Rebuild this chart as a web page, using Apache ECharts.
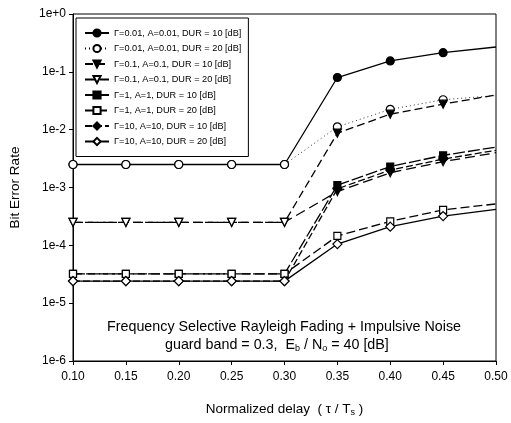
<!DOCTYPE html>
<html>
<head>
<meta charset="utf-8">
<script src="https://cdn.jsdelivr.net/npm/echarts@6/dist/echarts.min.js"></script>
<style>html,body{margin:0;padding:0;background:#fff;}#c{width:511px;height:423px;}</style>
</head>
<body>
<div id="c"></div>
<script>
const categories = ['0.10','0.15','0.20','0.25','0.30','0.35','0.40','0.45','0.50'];
const seriesNames = [
  '\u0393=0.01, A=0.01, DUR = 10 [dB]',
  '\u0393=0.01, A=0.01, DUR = 20 [dB]',
  '\u0393=0.1, A=0.1, DUR = 10 [dB]',
  '\u0393=0.1, A=0.1, DUR = 20 [dB]',
  '\u0393=1, A=1, DUR = 10 [dB]',
  '\u0393=1, A=1, DUR = 20 [dB]',
  '\u0393=10, A=10, DUR = 10 [dB]',
  '\u0393=10, A=10, DUR = 20 [dB]'
];
const g001_dur10 = [2.5e-3, 2.5e-3, 2.5e-3, 2.5e-3, 2.5e-3, 0.080, 0.155, 0.215, 0.27];
const g001_dur20 = [2.5e-3, 2.5e-3, 2.5e-3, 2.5e-3, 2.5e-3, 0.0112, 0.0225, 0.033, 0.039];
const g01_dur10  = [2.5e-4, 2.5e-4, 2.5e-4, 2.5e-4, 2.5e-4, 0.0087, 0.0186, 0.0277, 0.040];
const g01_dur20  = [2.5e-4, 2.5e-4, 2.5e-4, 2.5e-4, 2.5e-4, 8.5e-4, 1.8e-3, 2.8e-3, 4.0e-3];
const g1_dur10   = [3.2e-5, 3.2e-5, 3.2e-5, 3.2e-5, 3.2e-5, 1.1e-3, 2.3e-3, 3.6e-3, 5.0e-3];
const g1_dur20   = [3.2e-5, 3.2e-5, 3.2e-5, 3.2e-5, 3.2e-5, 1.45e-4, 2.6e-4, 4.1e-4, 5.2e-4];
const g10_dur10  = [2.4e-5, 2.4e-5, 2.4e-5, 2.4e-5, 2.4e-5, 9.5e-4, 2.0e-3, 3.1e-3, 4.4e-3];
const g10_dur20  = [2.4e-5, 2.4e-5, 2.4e-5, 2.4e-5, 2.4e-5, 1.05e-4, 2.1e-4, 3.2e-4, 4.2e-4];
const yTickLabels = {'0':'1e+0','-1':'1e-1','-2':'1e-2','-3':'1e-3','-4':'1e-4','-5':'1e-5','-6':'1e-6'};

const allData = [g001_dur10, g001_dur20, g01_dur10, g01_dur20, g1_dur10, g1_dur20, g10_dur10, g10_dur20];
const styles = [
  {symbol:'circle', fill:'#000', size:8, line:'solid', lw:1.3},
  {symbol:'circle', fill:'#fff', size:8, line:[1,3], lw:0.8},
  {symbol:'triangle', rot:180, fill:'#000', size:8, line:[8,4], lw:1.3},
  {symbol:'triangle', rot:180, fill:'#fff', size:8, line:[10,5], lw:1.3},
  {symbol:'rect', fill:'#000', size:7, line:[12,3], lw:1.3},
  {symbol:'rect', fill:'#fff', size:7, line:[9,4], lw:1.3},
  {symbol:'diamond', fill:'#000', size:9, line:[7,3], lw:1.3},
  {symbol:'diamond', fill:'#fff', size:9, line:'solid', lw:1.3}
];

const series = allData.map((d, i) => {
  const s = styles[i];
  return {
    name: seriesNames[i],
    type: 'line',
    data: d.map((v, k) => k === d.length - 1 ? {value: v, symbol: 'none'} : v),
    symbol: s.symbol,
    symbolRotate: s.rot || 0,
    symbolSize: s.size,
    showAllSymbol: true,
    itemStyle: {color: s.fill, borderColor: '#000', borderWidth: 1.2},
    lineStyle: {color: '#000', width: s.lw, type: s.line},
    animation: false,
    z: 2 + i
  };
});

const FONT = 'Liberation Sans, Arial';
const chart = echarts.init(document.getElementById('c'), null, {renderer: 'canvas'});
chart.setOption({
  backgroundColor: '#fff',
  animation: false,
  grid: {left: 72, right: 15, top: 14, bottom: 62, show: true, borderColor: '#000', borderWidth: 1},
  legend: {
    orient: 'vertical',
    left: 76, top: 18,
    padding: [10, 7, 10, 8],
    borderColor: '#000', borderWidth: 1,
    backgroundColor: '#fff',
    itemWidth: 24, itemHeight: 9, itemGap: 5.5,
    textStyle: {fontFamily: FONT, fontSize: 9.2, color: '#000', lineHeight: 10},
    data: seriesNames
  },
  xAxis: {
    type: 'category',
    data: categories,
    boundaryGap: false,
    axisLine: {lineStyle: {color: '#000', width: 1}},
    axisTick: {inside: false, length: 4, lineStyle: {color: '#000'}},
    axisLabel: {color: '#000', fontFamily: FONT, fontSize: 12, margin: 10},
    splitLine: {show: false},
    name: 'Normalized delay  ( \u03c4 / T{sub|s} )',
    nameLocation: 'middle',
    nameGap: 40,
    nameTextStyle: {color: '#000', fontFamily: FONT, fontSize: 13.5,
      rich: {sub: {fontSize: 9, verticalAlign: 'bottom', padding: [7, 0, 0, 0], fontFamily: FONT}}}
  },
  yAxis: {
    type: 'log',
    logBase: 10,
    min: 0.995e-6, max: 1.005,
    axisLine: {show: true, lineStyle: {color: '#000', width: 1}},
    axisTick: {show: true, length: 4, lineStyle: {color: '#000'}},
    axisLabel: {color: '#000', fontFamily: FONT, fontSize: 12, margin: 7, showMinLabel: true, showMaxLabel: true,
      formatter: v => { const e = Math.round(Math.log10(v)); return Math.abs(Math.log10(v) - e) < 0.01 ? (yTickLabels[String(e)] || '') : ''; }},
    splitLine: {show: false},
    name: 'Bit Error Rate',
    nameLocation: 'middle',
    nameGap: 51,
    nameTextStyle: {color: '#000', fontFamily: FONT, fontSize: 13.5}
  },
  graphic: [
    {type: 'text', left: 107, top: 320, style: {
      text: 'Frequency Selective Rayleigh Fading + Impulsive Noise',
      font: '14.3px "Liberation Sans", Arial', fill: '#000'}},
    {type: 'text', top: 338, left: 165, style: {
      text: 'guard band = 0.3,  E{sub|b} / N{sub|o} = 40 [dB]',
      font: '14.3px "Liberation Sans", Arial', fill: '#000',
      rich: {sub: {fontSize: 9, verticalAlign: 'bottom', padding: [8, 0, 0, 0], fill: '#000'}}}}
  ],
  series: series
});
</script>
</body>
</html>
